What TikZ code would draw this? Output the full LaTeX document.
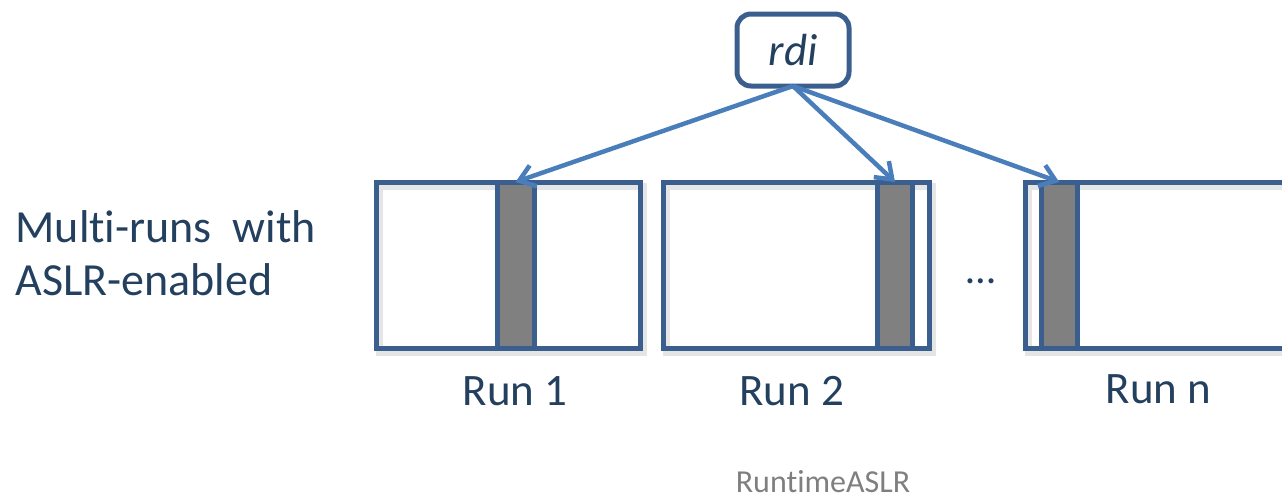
\documentclass[tikz,border=0pt]{standalone}
\usepackage{fontspec}
\setmainfont{Carlito}[Ligatures={NoCommon}]
\usetikzlibrary{arrows.meta}
\pgfdeclarelayer{background}
\pgfsetlayers{background,main}
\definecolor{frameblue}{HTML}{3A5F8E}
\definecolor{arrowblue}{HTML}{4A7EBB}
\definecolor{navy}{HTML}{24405F}
\definecolor{capgray}{HTML}{7F7F7F}
\definecolor{bargray}{HTML}{808080}

\begin{document}
\begin{tikzpicture}[x=1pt,y=-1pt,
  runbox/.style={draw=frameblue, line width=5pt, rectangle, inner sep=0pt,
    outer sep=0pt, minimum height=166pt},
  slot/.style={runbox, fill=bargray},
  regbox/.style={draw=frameblue, line width=5pt, rounded corners=14pt,
    inner sep=0pt, outer sep=0pt, minimum width=112pt, minimum height=72pt,
    text=navy, font=\fontsize{45}{54}\selectfont\itshape},
  runlabel/.style={anchor=base, text=navy, font=\fontsize{45}{54}\selectfont},
  pointer/.style={draw=arrowblue, line width=4.5pt,
    -{Straight Barb[length=15pt,width=22pt]}},
  shade/.style={line width=7pt, black, opacity=0.10}]
\useasboundingbox (0,0) rectangle (1282,501);
\clip (0,0) rectangle (1282,501);

% the register
\node[regbox] (rdi) at (793,50) {rdi};

% one memory image per run, with the slot rdi points into
\node[runbox, minimum width=264pt] (box1) at (508,265) {};
\node[runbox, minimum width=266pt] (box2) at (796,265) {};
\node[runbox, minimum width=295pt] (box3) at (1172.5,265) {};
\node[slot, minimum width=37pt] (bar1) at (515.5,265) {};
\node[slot, minimum width=35pt] (bar2) at (895,265) {};
\node[slot, minimum width=36.5pt] (bar3) at (1059.25,265) {};

% soft shadows under the frames
\begin{pgfonlayer}{background}
  \foreach \n in {box1,box2,box3}
    \draw[shade] ([shift={(3,4)}]\n.north west) rectangle ([shift={(3,4)}]\n.south east);
\end{pgfonlayer}

% pointers
\draw[pointer] (rdi.south) -- (bar1.north);
\draw[pointer] (rdi.south) -- (bar2.north);
\draw[pointer] (rdi.south) -- (bar3.north);

% labels
\node[anchor=base west, align=left, text=navy,
  font=\fontsize{46}{53}\selectfont] (title) at (12,295)
  {Multi-runs\ \ with\\ASLR-enabled};
\node[runlabel] (lab1) at (515,405) {Run 1};
\node[runlabel] (lab2) at (791.5,405) {Run 2};
\node[runlabel] (lab3) at (1158.5,403) {Run n};
\node[anchor=base, text=navy, font=\fontsize{42}{48}\selectfont] (dots)
  at (981,283) {…};
\node[anchor=base, text=capgray, font=\fontsize{32}{38}\selectfont] (footer)
  at (823,492) {RuntimeASLR};
\end{tikzpicture}
\end{document}
